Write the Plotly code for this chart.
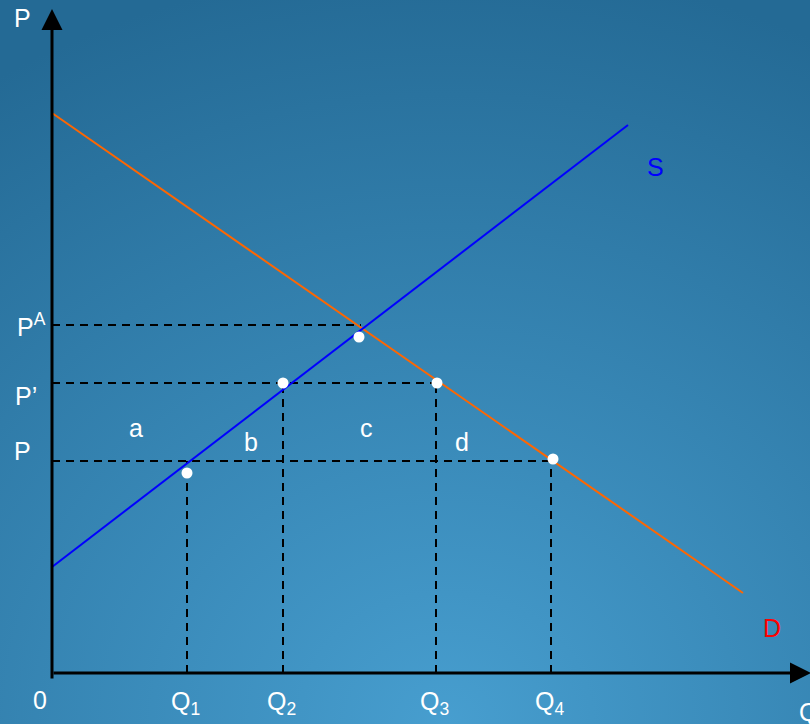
"""
Supply / demand diagram with price levels P, P' and P^A
"""

import base64
import plotly.graph_objects as go

# supply and demand curves (quantity, price)
supply_q = [0, 57.6]
supply_p = [10.6, 54.8]
demand_q = [0, 69.1]
demand_p = [56.0, 8.0]

# quantities and prices marked on the axes
q_levels = [13.5, 23.1, 38.4, 49.9]
q_labels = ["Q<sub>1</sub>", "Q<sub>2</sub>", "Q<sub>3</sub>", "Q<sub>4</sub>"]
price_p = 21.2
price_prime = 29.0
price_a = 34.8

# white points on the curves
dot_q = [13.5, 23.1, 30.7, 38.5, 50.1]
dot_p = [20.0, 29.0, 33.6, 29.0, 21.4]

# area labels
area_labels = ["a", "b", "c", "d"]
area_q = [8.4, 19.9, 31.4, 41.0]
area_p = [24.5, 23.1, 24.5, 23.1]

FONT = "Liberation Sans, Arial, sans-serif"
DASH = "8px,6px"

# background gradient as an svg image
svg = (
    '<svg xmlns="http://www.w3.org/2000/svg" width="810" height="724">'
    '<defs><radialGradient id="g" cx="0.55" cy="1.0" r="1.05">'
    '<stop offset="0" stop-color="#479ecf"/>'
    '<stop offset="1" stop-color="#246a95"/>'
    '</radialGradient></defs>'
    '<rect width="810" height="724" fill="url(#g)"/></svg>'
)
bg_src = "data:image/svg+xml;base64," + base64.b64encode(svg.encode()).decode()

fig = go.Figure()

# dashed guide lines
hlines = [(price_a, 30.9), (price_prime, q_levels[2]), (price_p, q_levels[3])]
for p, q_end in hlines:
    fig.add_trace(go.Scatter(x=[0, q_end], y=[p, p], mode="lines",
                             line=dict(color="black", width=2, dash=DASH),
                             hoverinfo="skip"))
vtops = [price_p, price_prime, price_prime, price_p]
for q, top in zip(q_levels, vtops):
    fig.add_trace(go.Scatter(x=[q, q], y=[0, top], mode="lines",
                             line=dict(color="black", width=2, dash=DASH),
                             hoverinfo="skip"))

fig.add_trace(go.Scatter(x=demand_q, y=demand_p, mode="lines",
                         line=dict(color="#ff6600", width=2), name="D"))
fig.add_trace(go.Scatter(x=supply_q, y=supply_p, mode="lines",
                         line=dict(color="#0000ff", width=2), name="S"))
fig.add_trace(go.Scatter(x=dot_q, y=dot_p, mode="markers",
                         marker=dict(color="white", size=11), hoverinfo="skip"))

# axes with arrow heads
for tip_x, tip_y, base_x, base_y in [(0, 66.4, 0, -0.7), (75.9, 0, 0, 0)]:
    fig.add_annotation(x=tip_x, y=tip_y, ax=base_x, ay=base_y, axref="x", ayref="y",
                       xref="x", yref="y", showarrow=True, arrowhead=2,
                       arrowsize=1.4, arrowwidth=3, arrowcolor="black", text="")

def label(text, x, y, color="white", size=25):
    fig.add_annotation(x=x, y=y, xref="x", yref="y", text=text, showarrow=False,
                       font=dict(family=FONT, size=size, color=color))

label("P", -3.0, 65.5)
label("P<sup>A</sup>", -2.1, 34.8)
label("P\u2019", -2.6, 27.7)
label("P", -3.0, 22.2)
label("0", -1.2, -2.7)
for q, t in zip(q_levels, q_labels):
    label(t, q - 0.2, -3.0)
for t, q, p in zip(area_labels, area_q, area_p):
    label(t, q, p)
label("S", 60.3, 50.6, color="#0000ff")
label("D", 72.0, 4.5, color="#ff0000")

# quantity axis title, partly off the right edge
fig.add_annotation(x=797 / 810, y=12 / 724, xref="paper", yref="paper",
                   xanchor="left", yanchor="middle", text="Q", showarrow=False,
                   font=dict(family=FONT, size=25, color="white"))

fig.update_layout(
    width=810,
    height=724,
    margin=dict(l=0, r=0, t=0, b=0),
    showlegend=False,
    paper_bgcolor="#3282b4",
    plot_bgcolor="rgba(0,0,0,0)",
    xaxis=dict(range=[-5.2, 75.8], visible=False, fixedrange=True),
    yaxis=dict(range=[-5.1, 67.3], visible=False, fixedrange=True),
    images=[dict(source=bg_src, xref="paper", yref="paper", x=0, y=1,
                 sizex=1, sizey=1, sizing="stretch", layer="below")],
)

# drop the default page margin so the chart fills the window
fig.write_html("out.html", config={"displayModeBar": False},
               post_script="document.body.style.margin='0';")
